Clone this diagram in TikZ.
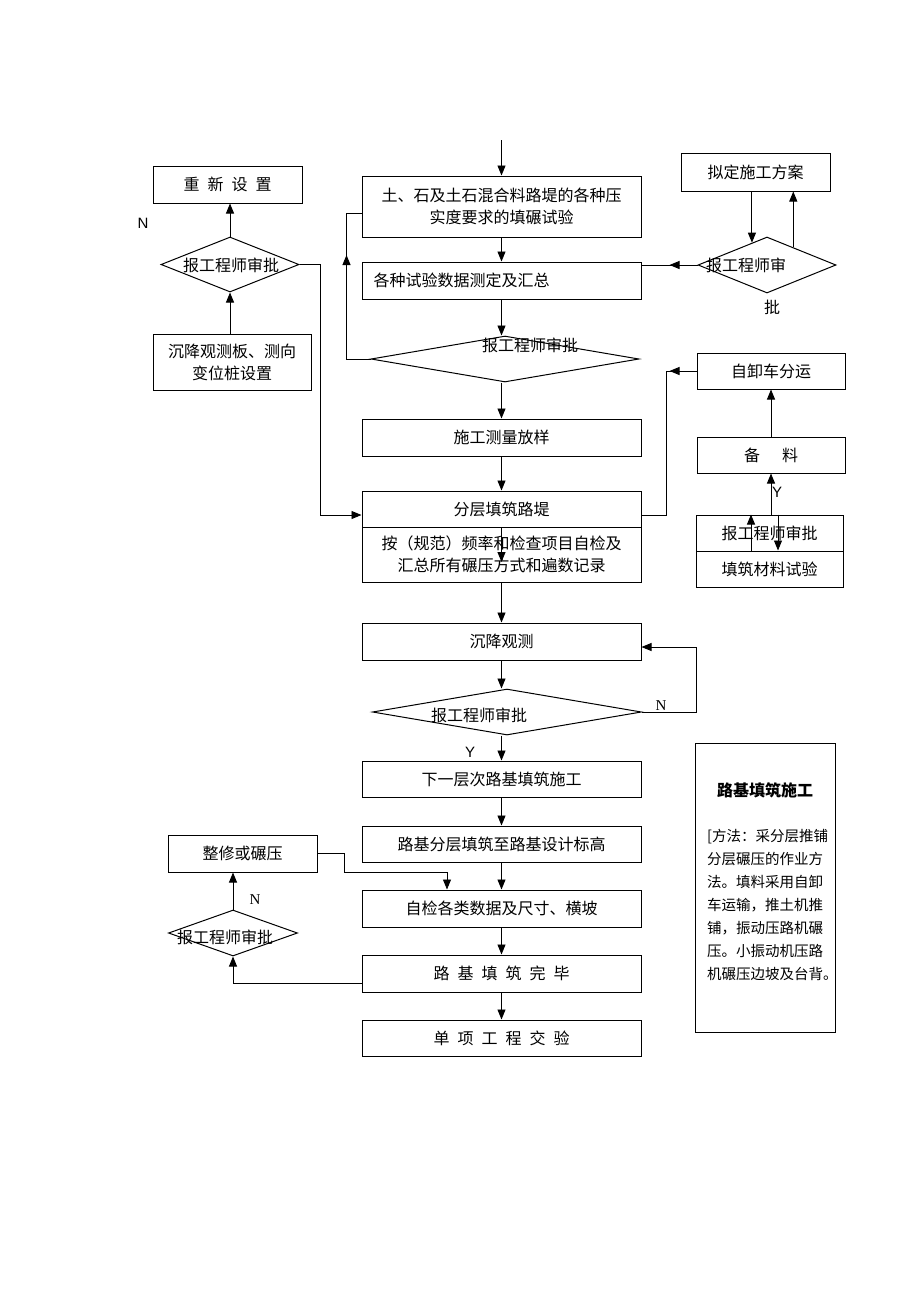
\documentclass[tikz,border=0pt]{standalone}
\usepackage{fontspec}
\setmainfont{Liberation Serif}
\setsansfont{Liberation Sans}
\newfontfamily\cjk{Noto Sans CJK SC}
\usetikzlibrary{shapes.geometric,arrows.meta,decorations.markings}
\newcommand{\jg}{\hspace{8pt}}

\begin{document}
\begin{tikzpicture}[x=1pt, y=-1pt,
    box/.style={draw, rectangle, inner sep=0pt, line width=1pt, font=\cjk\fontsize{16}{22}\selectfont, align=center},
    dia/.style={draw, diamond, inner sep=0pt, line width=1pt},
    txt/.style={inner sep=0pt, font=\cjk\fontsize{16}{22}\selectfont},
    arr/.style={line width=0.9pt, -{Triangle[length=10pt,width=8pt]}},
    midarr/.style={line width=0.9pt, postaction={decorate}, decoration={markings, mark=at position #1 with {\arrow{Triangle[length=10pt,width=8pt]}}}},
    yn/.style={inner sep=0pt, font=\sffamily\fontsize{15}{15}\selectfont},
    ynserif/.style={inner sep=0pt, font=\fontsize{15}{15}\selectfont}]
        \useasboundingbox[fill=white] (0,0) rectangle (920,1302);

        % main column
        \node[box, minimum width=279pt, minimum height=61pt] (tsy) at (501.5,206.5) {土、石及土石混合料路堤的各种压\\实度要求的填碾试验};
        \node[box, minimum width=279pt, minimum height=37pt, text width=256pt, align=left] (hz) at (501.5,280.5) {各种试验数据测定及汇总};
        \node[dia, minimum width=268pt, minimum height=46pt] (d1) at (505,359) {};
        \node[txt] (d1t) at (530,345) {报工程师审批};
        \node[box, minimum width=279pt, minimum height=37pt] (fy) at (501.5,437.5) {施工测量放样};
        \node[box, minimum width=279pt, minimum height=36pt] (lt) at (501.5,509) {分层填筑路堤};
        \node[box, minimum width=279pt, minimum height=55pt] (zj) at (501.5,554.5) {按（规范）频率和检查项目自检及\\汇总所有碾压方式和遍数记录};
        \node[box, minimum width=279pt, minimum height=37pt] (cj) at (501.5,641.5) {沉降观测};
        \node[dia, minimum width=269pt, minimum height=46pt] (d2) at (507,712) {};
        \node[txt] (d2t) at (479,715) {报工程师审批};
        \node[box, minimum width=279pt, minimum height=36pt] (xyc) at (501.5,779) {下一层次路基填筑施工};
        \node[box, minimum width=279pt, minimum height=36pt] (sjbg) at (501.5,844) {路基分层填筑至路基设计标高};
        \node[box, minimum width=279pt, minimum height=37pt] (zjcc) at (501.5,908.5) {自检各类数据及尺寸、横坡};
        \node[box, minimum width=279pt, minimum height=37pt] (wb) at (501.5,973.5) {路\jg 基\jg 填\jg 筑\jg 完\jg 毕};
        \node[box, minimum width=279pt, minimum height=36pt] (jy) at (501.5,1038) {单\jg 项\jg 工\jg 程\jg 交\jg 验};

        % left top
        \node[box, minimum width=149pt, minimum height=37pt] (cx) at (227.5,184.5) {重\jg 新\jg 设\jg 置};
        \node[dia, minimum width=138pt, minimum height=55pt] (d0) at (230,264.5) {};
        \node[txt] (d0t) at (231,265) {报工程师审批};
        \node[box, minimum width=158pt, minimum height=56pt] (bz) at (232,362) {沉降观测板、测向\\变位桩设置};

        % right top
        \node[box, minimum width=149pt, minimum height=38pt] (fa) at (755.5,172) {拟定施工方案};
        \node[dia, minimum width=138pt, minimum height=56pt] (d3) at (767,265) {};
        \node[txt] (d3t) at (746,265) {报工程师审};
        \node[txt] (d3p) at (772,307) {批};

        % right middle
        \node[box, minimum width=148pt, minimum height=36pt] (zx) at (771,371) {自卸车分运};
        \node[box, minimum width=148pt, minimum height=36pt] (bl) at (771,455) {备\hspace{22pt}料};
        \node[box, minimum width=147pt, minimum height=36pt] (sp) at (769.5,533) {报工程师审批};
        \node[box, minimum width=147pt, minimum height=36pt] (cs) at (769.5,569) {填筑材料试验};

        % lower left
        \node[box, minimum width=149pt, minimum height=37pt] (zxyl) at (242.5,853.5) {整修或碾压};
        \node[dia, minimum width=129pt, minimum height=46pt] (d4) at (233,933) {};
        \node[txt] (d4t) at (225,937) {报工程师审批};

        % note
        \node[draw, line width=1pt, minimum width=140pt, minimum height=289pt, inner sep=0pt] (sm) at (765,887.5) {};
        \node[inner sep=0pt, font=\cjk\bfseries\fontsize{16}{16}\selectfont] (smt) at (765,790) {路基填筑施工};
        \node[inner sep=0pt, anchor=west, align=left, font=\cjk\fontsize{14.5}{23}\selectfont] (smb) at (707,905) {[方法：采分层推铺\\分层碾压的作业方\\法。填料采用自卸\\车运输，推土机推\\铺，振动压路机碾\\压。小振动机压路\\机碾压边坡及台背。};

        % labels
        \node[yn] (n0) at (143,223) {N};
        \node[yn] (y2) at (470,752) {Y};
        \node[ynserif] (n2) at (661,706) {N};
        \node[yn] (ysp) at (777,492) {Y};
        \node[ynserif] (n4) at (255,900) {N};

        % connectors, main column
        \coordinate (top) at (501.5,140);
        \draw[arr] (top) -- (tsy.north);
        \draw[arr] (tsy.south) -- (hz.north);
        \draw[arr] (hz.south) -- (hz.south |- d1.north);
        \draw[midarr=128pt] (d1.west) -- ++(-24,0) |- ([yshift=-7pt]tsy.west);
        \draw[arr] (hz.south |- d1.south) -- (fy.north);
        \draw[arr] (fy.south) -- (lt.north);
        \coordinate (ltarr) at (501.5,562);
        \draw[arr] (lt.south) -- (ltarr);
        \draw[arr] (zj.south) -- (cj.north);
        \draw[arr] (cj.south) -- (cj.south |- d2.north);
        \draw[arr] (d2.east) -- ++(54,0) |- ([yshift=-5.5pt]cj.east);
        \draw[arr] (cj.south |- d2.south) -- (xyc.north);
        \draw[arr] (xyc.south) -- (sjbg.north);
        \draw[arr] (sjbg.south) -- (zjcc.north);
        \draw[arr] (zjcc.south) -- (wb.north);
        \draw[arr] (wb.south) -- (jy.north);

        % connectors, left
        \draw[arr] (d0.north) -- (d0.north |- cx.south);
        \draw[arr] (d0.south |- bz.north) -- (d0.south);
        \draw[arr] (d0.east) -- ++(21,0) |- ([yshift=-6pt]lt.west);
        \draw[arr] (d4.north) -- (d4.north |- zxyl.south);
        \draw[arr] ([yshift=-9.5pt]wb.west) -| (d4.south);
        \coordinate (t1) at (344,872);
        \draw[arr] (zxyl.east) -| (t1) -| ([xshift=-54.5pt]zjcc.north);

        % connectors, right
        \draw[arr] (fa.south -| d3.124) -- (d3.124);
        \draw[arr] (d3.34) -- (d3.34 |- fa.south);
        \draw[midarr=28pt] (d3.west) -- (d3.west -| hz.east);
        \draw[midarr=27pt] (zx.west) -- ++(-30,0) |- ([yshift=-6pt]lt.east);
        \draw[arr] (bl.north) -- (zx.south);
        \draw[arr] (bl.south |- sp.north) -- (bl.south);
        \draw[arr] ([xshift=-18.5pt]cs.north) -- ([xshift=-18.5pt]sp.north);
        \draw[arr] ([xshift=8.5pt]sp.north) -- ([xshift=8.5pt]cs.north);
    \end{tikzpicture}
\end{document}
